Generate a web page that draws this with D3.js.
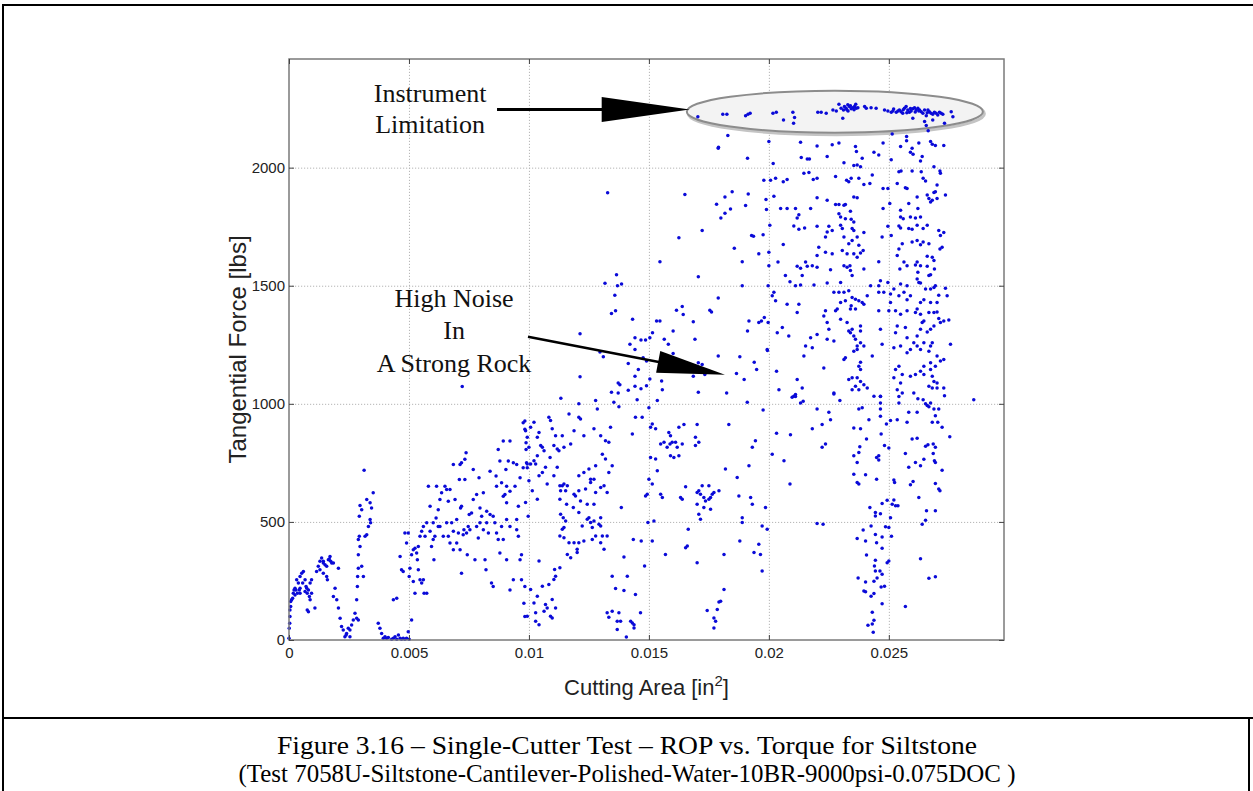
<!DOCTYPE html>
<html><head><meta charset="utf-8">
<script src="https://cdn.jsdelivr.net/npm/d3@7"></script>
<style>body{margin:0;background:#fff}svg{display:block}</style>
</head><body><svg id="c" width="1253" height="791"></svg>
<script>
// ---------- data ----------
const xTicks = [0, 0.005, 0.01, 0.015, 0.02, 0.025];
const xTickLabels = ["0", "0.005", "0.01", "0.015", "0.02", "0.025"];
const yTicks = [0, 500, 1000, 1500, 2000];
const yTickLabels = ["0", "500", "1000", "1500", "2000"];
const xDomain = [0, 0.0298];
const yDomain = [0, 2460];

// [cutting area in^2, tangential force lbs]
const rampPoints = [[0,7],[.00001,50],[.00003,71],[.00004,99],[.00004,127],[.00007,142],[.00007,163],[.00011,170],[.00015,177],[.00018,198],[.00021,212],[.00025,219],[.00029,212],[.00032,255],[.00039,241],[.00046,269],[.00053,283],[.0006,290],[.00057,241],[.00067,255],[.00071,227],[.00076,198],[.00081,212],[.00085,184],[.00088,170],[.00094,198],[.00076,127],[.00081,120],[.00108,135],[.00094,255],[.00088,241],[.00046,198],[.00035,198],[.00025,191],[.00043,212],[.00067,205],[.00074,219],[.00046,219],
[.00115,290],[.00122,312],[.00129,333],[.00136,347],[.00143,333],[.0015,319],[.00157,312],[.00164,340],[.00171,354],[.00174,333],[.00178,326],[.00157,269],[.0016,255],[.00143,283],[.00185,326],[.00206,304],[.00129,297],[.00143,326],[.00168,343],
[.00192,219],[.00185,184],[.00199,170],[.00206,135],[.00213,92],[.00219,57],[.00226,42],[.00233,14],[.0024,28],[.00247,50],[.00254,42],[.00261,64],[.00268,85],[.00275,113],[.00282,92],[.00289,85],[.00254,14],[.00238,21],
[.00282,170],[.00285,227],[.00286,269],[.00289,304],[.00289,361],[.00289,425],[.00293,439],[.00296,396],[.00303,312],[.0031,269],[.00293,524],[.00296,569],[.00303,552],[.00313,719],[.00317,439],[.00324,446],[.00324,595],[.00338,581],[.0034,496],[.00344,559],[.00351,623],[.00338,510],[.00331,481],
[.00372,71],[.00379,50],[.00386,28],[.00393,7],[.004,14],[.00407,7],[.00414,11],[.00428,3],[.00435,7],[.00442,14],[.00449,3],[.00456,21],[.00463,7],[.00469,3],[.00476,7],[.00483,3],[.0049,7],[.00501,3],[.00497,35],[.00511,85],[.00435,170],[.00449,177],
[.00463,354],[.00469,297],[.00476,290],[.00483,453],[.0049,411],[.00497,453],[.00501,269],[.00504,304],[.00511,361],[.00518,382],[.00525,389],[.00532,368],[.00539,396],[.00535,340],[.00539,297],[.00546,255],[.00553,241],[.0056,255],[.00563,198],[.00574,198],[.00525,198],[.00518,248],[.00546,439],[.00553,460],[.0056,481],[.00567,439],[.00574,496],[.00581,651],[.00588,460],[.00588,566],[.00594,396],[.00601,425],[.00604,340],[.00608,439],[.00613,517],[.00615,651],[.00622,552],[.00629,481],[.00629,595],[.00636,623],[.00643,439],[.0065,651],[.00657,496],[.00664,588],[.00664,439],[.00671,411],[.00678,496],[.00685,382],[.00685,743],[.00692,595],[.00699,510],[.00699,411],[.00706,453],[.0071,680],[.00713,382],[.00715,559],[.00719,566],[.00719,283],[.00722,1073],[.00726,446],[.00729,467],[.00733,680],[.00733,765],[.00738,793],[.0074,453],[.00743,361],[.00747,481],[.00751,531],[.00754,467],[.00761,538],[.00768,595],[.00775,340],[.00782,481],[.00789,432],[.00792,687],[.00796,496],[.00803,524],[.0081,467],[.00817,340],[.00821,297],[.00824,496],[.00831,453],[.00838,531],[.00844,241],[.00851,227],[.00858,496],[.00865,453],[.00872,425],[.00879,368],[.00886,481],[.00893,425],[.00907,340],[.00921,212],[.00935,255],[.00949,467],[.00956,439],[.00963,340],[.00969,255],[.00851,524],[.00865,651],[.00863,694],[.00872,807],[.00879,758],[.00893,843],[.00904,722],[.00914,758],[.00921,843],[.00935,750],[.00942,651],[.00949,510],[.00956,566],[.00963,687],[.00949,743],[.00921,630],[.00907,510],[.00907,581],[.00893,609],[.009,616],[.00907,651],[.00886,666],[.00921,481],[.00969,361],[.00976,729],[.00983,227],[.00838,715],[.0081,623],[.00824,545],[.00796,559],[.00782,616],[.00768,722],[.00713,743],[.00719,750],[.00685,460],[.00671,637],[.00657,637],[.00622,481],[.00601,496],
[.00976,920],[.00983,927],[.00983,892],[.00988,835],[.00988,807],[.0099,750],[.00993,729],[.00997,524],[.00979,156],[.00983,99]];

const midLowPoints = [[.00986,886],[.00993,858],[.01,816],[.01007,901],[.01021,922],[.01035,858],[.01042,879],[.01049,823],[.01056,816],[.01035,780],[.01021,759],[.01028,745],[.01007,745],[.00993,745],[.01,674],[.01042,695],[.01056,709],[.01069,731],[.01076,660],[.01014,632],[.01035,596],[.00986,582],[.01063,801],[.01083,943],[.0109,929],[.01097,894],[.01104,823],[.01118,809],[.01125,801],[.01111,865],[.01088,773],[.01118,731],[.01104,695],[.01042,334],[.01056,228],[.01035,185],[.01021,157],[.01007,214],[.00993,101],[.01028,115],[.01042,65],[.01063,122],[.01076,136],[.0109,101],[.01083,235],[.01097,171],[.01104,256],[.01111,270],[.01107,299],[.01129,306],[.01069,150],[.01111,136],[.01097,93],[.01028,79],
[.01129,653],[.01139,653],[.01146,660],[.01132,632],[.01153,632],[.0116,653],[.01129,596],[.01157,575],[.01188,617],[.01194,610],[.01208,632],[.01215,589],[.01236,639],[.01257,681],[.01271,681],[.01278,624],[.01299,646],[.01313,653],[.01326,624],[.01271,575],[.01299,518],[.01333,709],[.01347,738],[.01319,766],[.01306,787],[.01319,844],[.01333,837],[.01299,865],[.01271,894],[.01229,865],[.01188,886],[.01174,830],[.01146,816],[.01139,865],[.01167,957],[.01208,943],[.01215,936],[.01208,1000],[.01278,1014],[.01285,978],[.0134,901],[.01354,1007],[.01375,988],[.01431,872],[.01444,943],[.01472,943],[.01451,1017],[.01208,695],[.0125,724],[.01257,667],[.01278,738],[.01229,709],[.01132,532],[.01143,518],[.01153,504],[.01146,476],[.01139,469],[.01129,440],[.01146,433],[.01167,412],[.01188,412],[.01208,412],[.01201,384],[.01201,370],[.01222,483],[.01243,511],[.0125,518],[.01257,497],[.01264,476],[.01264,426],[.01278,440],[.01292,490],[.01299,483],[.01306,440],[.01299,412],[.01313,384],[.01326,440],[.01174,348],[.01229,419],[.0116,362],[.01185,561],[.01208,540],[.01243,575],[.01271,504],[.01385,561],[.01396,351],[.0141,270],[.01347,270],[.01361,218],[.01444,193],[.01396,210],[.01326,115],[.01333,96],[.01347,122],[.01368,79],[.01382,79],[.01375,115],[.01431,72],[.01438,65],[.01438,51],[.01465,115],[.01406,13],[.01368,44],[.01424,79],[.01435,425],[.01468,419],[.01482,313],
[.015,983],[.01507,901],[.01514,915],[.01528,894],[.01535,1014],[.01549,830],[.01563,837],[.01576,816],[.01583,879],[.0159,865],[.01588,830],[.01597,837],[.01611,837],[.01618,816],[.01625,901],[.01646,912],[.01639,830],[.01694,858],[.01701,912],[.01708,837],[.01694,823],[.01507,773],[.01528,766],[.01535,717],[.01514,660],[.01549,617],[.01556,603],[.0159,780],[.01604,773],[.01625,780],[.015,681],[.01493,617],[.01496,497],[.01521,504],[.01514,419],[.01632,603],[.01639,596],[.01653,649],[.01701,624],[.01708,632],[.01722,653],[.01715,617],[.01729,603],[.01736,589],[.0175,653],[.01764,617],[.01757,603],[.01771,624],[.01792,632],[.01729,561],[.01757,554],[.01701,575],[.01708,532],[.01715,511],[.0175,596],[.01819,724],[.01833,912],[.01868,688],[.01875,610],[.01917,738],[.01924,603],[.01931,575],[.01931,816],[.01944,844],[.0191,1007],[.01976,974],[.01986,561],[.01972,483],[.01993,469],[.01889,518],[.01889,497],[.01879,419],[.01938,370],[.01958,405],[.01965,362],[.01972,292],[.01813,362],[.01813,214],[.01792,161],[.01799,164],[.01785,129],[.01771,93],[.01778,79],[.01771,51],[.01743,125],[.01701,327],[.0166,398],[.01653,391],[.01664,469],[.01569,362],[.01486,610]];

const midHighPoints = [[.01328,1894],[.01317,1510],[.01365,1546],[.01369,1500],[.01386,1507],[.01358,1460],[.01344,1382],[.01361,1394],[.01432,1358],[.01213,1297],[.0131,1199],[.01296,1219],[.01213,1115],[.01133,1024],[.01515,1301],[.01504,1280],[.01486,1270],[.01467,1270],[.01442,1280],[.01421,1252],[.01442,1230],[.01476,1195],[.0149,1181],[.01414,1171],[.01456,1145],[.01442,1117],[.01372,1088],[.01379,1081],[.01344,1049],[.01372,1046],[.01414,1057],[.01442,1074],[.01467,1064],[.0149,1077],[.01504,1105],[.01553,1097],[.01556,1060],[.01546,1351],[.01532,1351],[.01601,1308],[.01615,1396],[.01639,1412],[.01643,1378],[.01685,1347],[.01692,1273],[.01564,1273],[.01581,1252],[.01601,1213],[.0155,1181],[.01754,1396],[.01761,1389],[.01789,1448],[.01706,1174],[.01722,1166],[.01685,1117],[.01733,1124],[.01789,1202],[.01706,1049],[.01824,1046],[.01879,1199],[.01865,1128],[.01897,1103],[.01939,1176],[.01949,1145],[.01911,1308],[.01917,1351],[.01958,1344],[.01969,1351],[.01981,1365],[.01997,1344],[.01994,1226],[.0165,1886],[.01625,1703],[.01546,1602],[.01706,1538],[.01722,1734],[.01782,1845],[.018,1787],[.01817,1807],[.0184,1825],[.01817,1876],[.01847,1898],[.01903,1840],[.01914,1888],[.01911,2040],[.01979,1947],[.01988,1865],[.0199,1823],[.01928,1713],[.01936,1709],[.01976,1716],[.01958,1635],[.01889,1602],[.01856,1659],[.01889,1500],[.01997,1500],[.01789,2082],[.02004,1756],[.01829,2136],[.0179,2086]];

const wideHighPoints = [[.02,2111],[.02018,2018],[.02132,2108],[.02135,2043],[.0216,2037],[.02169,2037],[.02201,2092],[.02243,2047],[.02264,2097],[.02292,2104],[.02313,2021],[.02361,2089],[.02365,2068],[.02389,2040],[.02354,2009],[.02368,2011],[.02382,2004],[.02438,2065],[.02458,2054],[.02476,2104],[.02514,2142],[.0251,2033],[.02549,2089],[.02574,2132],[.02574,2114],[.0259,2065],[.02597,2082],[.02601,2057],[.02625,2104],[.02632,2028],[.02639,2047],[.02664,2156],[.02674,2111],[.02681,2099],[.02694,2094],[.02688,2004],[.02729,2094],
[.02007,1947],[.02028,1955],[.0206,1940],[.02076,1950],[.02146,1976],[.02167,1979],[.02185,1950],[.02201,1955],[.02278,1962],[.02324,1947],[.02333,1940],[.02343,1955],[.02375,1955],[.02396,1929],[.02421,1933],[.02431,1969],[.02476,1912],[.02496,1912],[.02542,1983],[.02551,1986],[.02597,1986],[.02635,1983],[.02643,1955],[.02653,1943],[.02713,1986],[.02715,1976],[.02535,1933],[.02569,1915],[.02576,1912],[.02701,1926],[.02694,1898],[.02688,1895],[.02701,1869],[.02736,1884],[.0266,1884],[.02667,1869],[.02674,1855],[.02681,1862],[.02618,1876],[.02621,1827],[.02583,1848],[.02549,1820],[.02504,1848],[.02476,1827],[.02354,1876],[.02368,1872],[.02319,1844],[.02292,1844],[.02278,1844],[.02313,1841],[.0234,1815],[.02243,1862],[.02201,1872],[.02174,1827],[.02111,1827],[.02076,1827],[.02049,1827],[.02021,1879],[.02125,1801],[.02118,1787],[.02104,1753],[.02125,1739],[.02149,1744],[.02201,1752],[.0225,1752],[.02264,1734],[.02236,1706],[.02243,1727],[.02292,1805],[.02299,1791],[.02319,1784],[.02343,1781],[.02354,1770],[.02299,1756],[.02306,1742],[.02347,1742],[.02354,1734],[.02313,1706],[.02333,1678],[.02347,1692],[.02368,1706],[.02396,1725],[.02375,1671],[.02382,1639],[.02393,1649],[.02306,1649],[.02326,1635],[.02354,1635],[.02368,1621],[.02313,1585],[.02326,1578],[.02347,1543],[.0234,1564],[.02208,1663],[.02201,1628],[.02236,1642],[.02264,1635],[.0206,1675],[.02,1642],[.02,1585],[.02038,1600],[.02118,1583],[.02132,1574],[.02153,1600],[.0216,1583],[.02181,1585],[.02201,1578],[.02257,1568],[.02139,1543],[.02069,1543],[.02088,1517],[.02111,1500],[.02132,1503],[.02188,1503],[.02243,1512],[.02299,1514],[.02338,1585],[.02396,1571],[.02458,1602],[.02465,1521],[.02472,1706],[.02496,1752],[.0251,1713],[.02549,1791],[.0256,1784],[.0259,1791],[.02611,1787],[.02618,1756],[.02632,1791],[.02643,1742],[.0266,1756],[.02708,1734],[.02715,1713],[.02729,1725],[.02722,1663],[.02713,1656],[.02542,1753],[.02549,1744],[.02583,1742],[.02597,1739],[.02556,1678],[.02542,1656],[.02535,1628],[.02563,1600],[.02576,1585],[.02597,1685],[.02618,1692],[.02632,1673],[.02643,1685],[.02667,1678],[.0266,1625],[.02681,1621],[.02688,1607],[.0269,1571],[.02674,1546],[.02667,1543],[.0266,1583],[.02632,1585],[.02611,1588],[.02618,1600],[.02621,1557],[.02618,1529],[.02625,1514],[.02632,1512],[.02653,1486],[.02674,1486],[.02688,1493],[.02694,1500],[.02736,1489],[.02708,1460],[.02743,1458],[.02701,1429],[.02674,1429],[.02646,1441],[.02632,1429],[.0259,1458],[.02576,1441],[.02563,1472],[.02542,1458],[.02521,1486],[.02507,1465],[.02549,1507],[.02576,1500],[.02546,1571],[.02507,1429],[.025,1394],[.02528,1394],[.02549,1379],[.02576,1394],[.02618,1401],[.02611,1387],[.02632,1379],[.02639,1344],[.02646,1351],[.02667,1387],[.02688,1387],[.02701,1389],[.02708,1361],[.0275,1355],[.02729,1351],[.02715,1344],[.02688,1330],[.02674,1316],[.0266,1304],[.02632,1316],[.02618,1287],[.02604,1259],[.02576,1280],[.02535,1330],[.02528,1301],[.02521,1237],[.02549,1245],[.02576,1216],[.0259,1230],[.02618,1245],[.02632,1230],[.02646,1259],[.02681,1259],[.02674,1245],[.02667,1223],[.02701,1202],[.02715,1181],[.02729,1188],[.02674,1174],[.02646,1159],[.02632,1138],[.02611,1124],[.0259,1117],[.02556,1124],[.02542,1159],[.02528,1145],[.02521,1110],[.02549,1088],[.02535,1060],[.02556,1046],[.02604,1046],[.02667,1074],[.02681,1067],[.02701,1067],[.02729,1067],[.02701,1088],[.02757,1252],[.02646,1124],[.02674,1145],[.02694,1159],[.02681,1117],[.02688,1095],[.02375,1159],[.02382,1145],[.02368,1110],[.02361,1074],[.02375,1060],[.02396,1081],[.02382,1095],[.02347,1110],[.02333,1103],[.02347,1060],[.0241,1067],[.02438,1032],[.02465,1032],[.02313,1188],[.02229,1152],[.02146,1202],[.02153,1245],[.02181,1237],[.02201,1294],[.02174,1280],[.02118,1387],[.02125,1422],[.02076,1422],[.02035,1301],[.02056,1323],[.02083,1287],[.01993,1230],[.02032,1138],[.02118,1103],[.02139,1067],[.02042,1060],[.02104,1032],[.02111,1039],[.02271,1046],[.02243,1273],[.02271,1266],[.02278,1394],[.02285,1401],[.02299,1429],[.02319,1436],[.02292,1472],[.02271,1472],[.02313,1472],[.02333,1479],[.02347,1450],[.02361,1401],[.02375,1436],[.02389,1429],[.02396,1422],[.0234,1401],[.02343,1415],[.02361,1443],[.02236,1394],[.02229,1372],[.02243,1344],[.0225,1316],[.02299,1358],[.02326,1344],[.02333,1308],[.0234,1301],[.02354,1287],[.02361,1273],[.02368,1245],[.02382,1259],[.02396,1245],[.02431,1202],[.02465,1316],[.02458,1500],[.02458,1472],[.02479,1472],[.02424,1500],[.02458,1394],[.0241,1458],[.02382,1330],[.02382,1308],[.02347,1316],[.02382,1176],[.02496,1514],[.02472,1252],[.02569,1323],[.02028,1436],[.02021,1472],[.02014,1458],[.02319,1195],[.02354,1223],[.02368,1230]];

const wideLowPoints = [[.02097,1028],[.02111,1031],[.02132,1003],[.02143,1011],[.02201,978],[.0225,964],[.02257,933],[.02271,1042],[.02296,1014],[.02181,894],[.02222,912],[.02236,830],[.02222,816],[.02032,875],[.0209,869],[.02014,787],[.02063,759],[.02088,660],[.02201,493],[.02226,490],[.02354,898],[.02382,894],[.02375,978],[.02389,983],[.02417,933],[.02465,1031],[.02465,1003],[.02465,978],[.02465,947],[.02468,872],[.0249,915],[.02507,929],[.02535,933],[.02542,1003],[.02542,1031],[.02576,922],[.02583,964],[.02618,964],[.02621,1021],[.02643,1017],[.02653,1000],[.0266,993],[.02667,988],[.02674,1003],[.02688,978],[.02708,978],[.02681,922],[.02694,950],[.02704,922],[.02722,901],[.02732,1034],[.02754,861],[.02854,1017],[.02407,851],[.02379,818],[.02375,794],[.02354,780],[.02368,752],[.02449,773],[.02458,780],[.02458,762],[.02482,823],[.025,813],[.02354,702],[.02403,700],[.02368,667],[.02375,660],[.02449,681],[.02569,790],[.02597,851],[.02618,854],[.02583,731],[.02611,752],[.02632,738],[.02646,765],[.02653,820],[.02663,827],[.02685,830],[.02694,816],[.02685,790],[.0269,759],[.02694,752],[.02722,719],[.0259,657],[.02601,671],[.02625,603],[.02694,663],[.02708,639],[.02713,632],[.02521,677],[.02524,667],[.02472,578],[.02493,592],[.02514,575],[.02528,568],[.02538,568],[.02521,593],[.02421,561],[.02444,540],[.02444,525],[.02465,535],[.02507,518],[.02657,547],[.02694,547],[.02653,507],[.02639,490],[.02486,479],[.025,476],[.02511,439],[.02393,466],[.02368,430],[.02426,483],[.02444,447],[.02472,436],[.02449,412],[.02403,419],[.02472,388],[.02407,360],[.02444,338],[.0244,313],[.02444,292],[.02463,292],[.02472,278],[.02451,263],[.02493,327],[.025,334],[.02372,263],[.02403,246],[.02438,249],[.02396,207],[.02403,204],[.02426,185],[.02438,197],[.02468,224],[.02482,228],[.02472,153],[.02569,142],[.02431,118],[.02438,84],[.02431,68],[.02413,62],[.02435,33],[.02632,344],[.02667,261],[.02694,268]];

const saturatedPoints = [[.01704,2216],[.01808,2226],[.01825,2226],[.01903,2220],[.01913,2226],[.01922,2230],[.02017,2230],[.02031,2235],[.02061,2202],[.021,2235],[.02107,2212],[.02103,2188],[.02204,2235],[.02218,2235],[.02239,2230],[.02267,2244],[.02281,2240],[.02292,2268],[.02301,2252],[.02311,2244],[.02315,2259],[.02322,2252],[.02329,2266],[.02336,2259],[.02343,2249],[.0235,2254],[.02357,2259],[.02364,2252],[.02371,2254],[.02308,2209],[.02399,2259],[.02406,2252],[.02426,2254],[.02447,2252],[.02482,2244],[.02496,2240],[.0251,2235],[.02517,2240],[.02531,2235],[.02538,2240],[.02544,2244],[.02551,2237],[.02558,2230],[.02565,2252],[.02572,2259],[.02579,2244],[.02586,2235],[.02593,2240],[.026,2249],[.02607,2254],[.02614,2244],[.02621,2252],[.02628,2244],[.02635,2237],[.02642,2230],[.02649,2244],[.02656,2220],[.02663,2244],[.02669,2237],[.02676,2230],[.02683,2226],[.0269,2235],[.02697,2230],[.02704,2223],[.02711,2235],[.02718,2230],[.02725,2226],[.0276,2237],[.02767,2216],[.026,2209],[.02649,2195],[.02656,2178],[.02683,2202],[.02732,2188],
[.02325,2245],[.0234,2262],[.02355,2245],[.02362,2268],[.0233,2240],[.0252,2248],[.0256,2245],[.0259,2250],[.02625,2240],[.0266,2232],[.02575,2232],[.0261,2236]];

// annotations (data coordinates)
const limitText = ["Instrument", "Limitation"];
const limitTextAnchor = [0.00588, 2280];
const limitArrow = {from: [0.00867, 2246], to: [0.0167, 2246]};
const limitEllipse = {center: [0.02275, 2237], radii: [0.00617, 89]};
const noiseText = ["High Noise", "In", "A Strong Rock"];
const noiseTextAnchor = [0.00688, 1411];
const noiseArrow = {from: [0.00996, 1284], to: [0.01817, 1123]};
const caption = ["Figure 3.16 \u2013 Single-Cutter Test \u2013 ROP vs. Torque for Siltstone",
                 "(Test 7058U-Siltstone-Cantilever-Polished-Water-10BR-9000psi-0.075DOC )"];

// ---------- drawing ----------
const svg = d3.select("#c");
const L = 289, R = 1004, T = 59, B = 640;
const x = d3.scaleLinear().domain(xDomain).range([L, R]);
const y = d3.scaleLinear().domain(yDomain).range([B, T]);

// figure frame lines
svg.append("line").attr("x1", 3).attr("x2", 1253).attr("y1", 5).attr("y2", 5).attr("stroke", "#000").attr("stroke-width", 2);
svg.append("line").attr("x1", 3).attr("x2", 3).attr("y1", 4).attr("y2", 791).attr("stroke", "#000").attr("stroke-width", 2);
svg.append("line").attr("x1", 3).attr("x2", 1253).attr("y1", 718).attr("y2", 718).attr("stroke", "#000").attr("stroke-width", 2);
svg.append("line").attr("x1", 1249).attr("x2", 1249).attr("y1", 718).attr("y2", 791).attr("stroke", "#000").attr("stroke-width", 2);

// grid
const grid = svg.append("g");
grid.append("g").attr("transform", `translate(0,${B})`)
  .call(d3.axisBottom(x).tickValues(xTicks.slice(1)).tickSize(-(B - T)).tickFormat(""))
  .call(g => { g.select(".domain").remove(); g.selectAll("line").attr("stroke", "#b5b5b5").attr("stroke-dasharray", "1.2,1.8"); });
grid.append("g").attr("transform", `translate(${L},0)`)
  .call(d3.axisLeft(y).tickValues(yTicks.slice(1)).tickSize(-(R - L)).tickFormat(""))
  .call(g => { g.select(".domain").remove(); g.selectAll("line").attr("stroke", "#b5b5b5").attr("stroke-dasharray", "1.2,1.8"); });

// ellipse highlighting the instrument limit
const ecx = x(limitEllipse.center[0]), ecy = y(limitEllipse.center[1]);
const erx = x(limitEllipse.center[0] + limitEllipse.radii[0]) - ecx;
const ery = ecy - y(limitEllipse.center[1] + limitEllipse.radii[1]);
svg.append("ellipse").attr("cx", ecx + 1.5).attr("cy", ecy + 2).attr("rx", erx).attr("ry", ery)
  .attr("fill", "none").attr("stroke", "#c4c4c4").attr("stroke-width", 3);
svg.append("ellipse").attr("cx", ecx).attr("cy", ecy).attr("rx", erx).attr("ry", ery)
  .attr("fill", "#f3f3f3").attr("stroke", "#8c8c8c").attr("stroke-width", 2);

// scatter points
const allPoints = [].concat(rampPoints, midLowPoints, midHighPoints, wideHighPoints, wideLowPoints, saturatedPoints);
svg.append("g").selectAll("circle").data(allPoints).join("circle")
  .attr("cx", d => x(d[0])).attr("cy", d => y(d[1])).attr("r", 1.75).attr("fill", "#0a0ad8");

// axes box
svg.append("rect").attr("x", L).attr("y", T).attr("width", R - L).attr("height", B - T)
  .attr("fill", "none").attr("stroke", "#7a7a7a").attr("stroke-width", 1.5);

const styleAxis = g => {
  g.select(".domain").remove();
  g.selectAll(".tick line").attr("stroke", "#444").attr("stroke-width", 1);
  g.selectAll("text").attr("font-family", "Arial, 'Liberation Sans', sans-serif").attr("font-size", 15).attr("fill", "#222");
};
svg.append("g").attr("transform", `translate(0,${B})`)
  .call(d3.axisBottom(x).tickValues(xTicks).tickFormat((d, i) => xTickLabels[i]).tickSizeInner(-5).tickSizeOuter(0).tickPadding(7))
  .call(styleAxis);
svg.append("g").attr("transform", `translate(${L},0)`)
  .call(d3.axisLeft(y).tickValues(yTicks).tickFormat((d, i) => yTickLabels[i]).tickSizeInner(-5).tickSizeOuter(0).tickPadding(4))
  .call(styleAxis);
svg.append("g").attr("transform", `translate(0,${T})`)
  .call(d3.axisTop(x).tickValues(xTicks).tickFormat("").tickSizeInner(-5).tickSizeOuter(0))
  .call(styleAxis);
svg.append("g").attr("transform", `translate(${R},0)`)
  .call(d3.axisRight(y).tickValues(yTicks).tickFormat("").tickSizeInner(-5).tickSizeOuter(0))
  .call(styleAxis);

// axis labels
const xl = svg.append("text").attr("x", (L + R) / 2).attr("y", 695).attr("text-anchor", "middle")
  .attr("font-family", "Arial, 'Liberation Sans', sans-serif").attr("font-size", 22).attr("fill", "#222");
xl.append("tspan").text("Cutting Area [in");
xl.append("tspan").attr("font-size", 15).attr("dy", -9).text("2");
xl.append("tspan").attr("dy", 9).text("]");
svg.append("text").attr("transform", `translate(246,${(T + B) / 2}) rotate(-90)`).attr("text-anchor", "middle")
  .attr("font-family", "Arial, 'Liberation Sans', sans-serif").attr("font-size", 24).attr("fill", "#222")
  .text("Tangential Force [lbs]");

// annotation texts
const serif = "'Times New Roman', 'Liberation Serif', serif";
limitText.forEach((t, i) => svg.append("text").attr("x", x(limitTextAnchor[0])).attr("y", y(limitTextAnchor[1]) + i * 31)
  .attr("text-anchor", "middle").attr("font-family", serif).attr("font-size", 26).attr("fill", "#111").text(t));
noiseText.forEach((t, i) => svg.append("text").attr("x", x(noiseTextAnchor[0])).attr("y", y(noiseTextAnchor[1]) + i * 32.5)
  .attr("text-anchor", "middle").attr("font-family", serif).attr("font-size", 26).attr("fill", "#111").text(t));

// arrows
function arrow(a, headLen, headHalf, width) {
  const x0 = x(a.from[0]), y0 = y(a.from[1]), x1 = x(a.to[0]), y1 = y(a.to[1]);
  const dx = x1 - x0, dy = y1 - y0, len = Math.hypot(dx, dy), ux = dx / len, uy = dy / len;
  const bx = x1 - ux * headLen, by = y1 - uy * headLen;
  svg.append("line").attr("x1", x0).attr("y1", y0).attr("x2", bx + ux * 2).attr("y2", by + uy * 2)
    .attr("stroke", "#000").attr("stroke-width", width);
  svg.append("polygon").attr("points", [[x1, y1], [bx - uy * headHalf, by + ux * headHalf], [bx + uy * headHalf, by - ux * headHalf]].map(p => p.join(",")).join(" "))
    .attr("fill", "#000");
}
arrow(limitArrow, 88, 12.5, 3);
arrow(noiseArrow, 68, 11, 2.5);

// caption
const captionWidths = [700, 777];
caption.forEach((t, i) => svg.append("text").attr("x", 627).attr("y", 754 + i * 28).attr("text-anchor", "middle")
  .attr("font-family", serif).attr("font-size", 25).attr("fill", "#000")
  .attr("textLength", captionWidths[i]).attr("lengthAdjust", "spacingAndGlyphs").text(t));
</script>
</body></html>
